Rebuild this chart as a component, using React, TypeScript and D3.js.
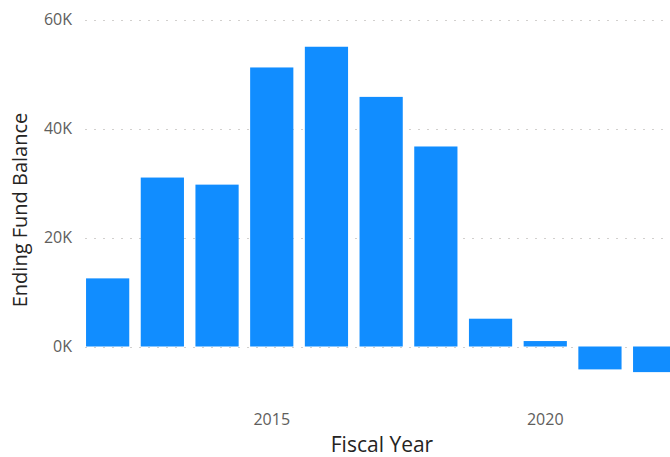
import { useEffect, useRef } from "react";
import * as d3 from "d3";

const years = [2012, 2013, 2014, 2015, 2016, 2017, 2018, 2019, 2020, 2021, 2022];
const balances = [12500, 31000, 29700, 51200, 55000, 45800, 36700, 5100, 1000, -4200, -4700];
const yTicks = [0, 20000, 40000, 60000];
const xTickYears = [2015, 2020];

const FONT = "'Segoe UI', 'Open Sans', 'DejaVu Sans', sans-serif";

const App = () => {
  const ref = useRef<SVGSVGElement>(null);

  useEffect(() => {
    if (!ref.current) return;
    const svg = d3.select(ref.current);
    svg.selectAll("*").remove();

    const width = 670;
    const height = 457;

    const x = d3
      .scaleBand<number>()
      .domain(years)
      .range([80.3, 682])
      .paddingInner(0.21)
      .paddingOuter(0.105);

    const y = d3.scaleLinear().domain([0, 60000]).range([346.5, 19.5]);

    svg.attr("width", width).attr("height", height);

    // gridlines
    svg
      .append("g")
      .selectAll("line")
      .data(yTicks)
      .enter()
      .append("line")
      .attr("x1", 85)
      .attr("x2", width)
      .attr("y1", (d) => Math.round(y(d)) + 0.5)
      .attr("y2", (d) => Math.round(y(d)) + 0.5)
      .attr("stroke", "#d2d0ce")
      .attr("stroke-width", 1)
      .attr("stroke-dasharray", "2 7");

    // y tick labels
    svg
      .append("g")
      .selectAll("text")
      .data(yTicks)
      .enter()
      .append("text")
      .attr("x", 72)
      .attr("y", (d) => y(d))
      .attr("dy", "0.35em")
      .attr("text-anchor", "end")
      .attr("font-family", FONT)
      .attr("font-size", "16px")
      .attr("fill", "#605e5c")
      .text((d) => `${d / 1000}K`);

    // bars
    svg
      .append("g")
      .selectAll("rect")
      .data(years)
      .enter()
      .append("rect")
      .attr("x", (d) => x(d)!)
      .attr("width", x.bandwidth())
      .attr("y", (_d, i) => y(Math.max(0, balances[i])))
      .attr("height", (_d, i) => Math.abs(y(balances[i]) - y(0)))
      .attr("fill", "#118dff");

    // x tick labels
    svg
      .append("g")
      .selectAll("text")
      .data(xTickYears)
      .enter()
      .append("text")
      .attr("x", (d) => x(d)! + x.bandwidth() / 2)
      .attr("y", 425)
      .attr("text-anchor", "middle")
      .attr("font-family", FONT)
      .attr("font-size", "16px")
      .attr("fill", "#605e5c")
      .text((d) => d);

    // axis titles
    svg
      .append("text")
      .attr("x", 382)
      .attr("y", 452)
      .attr("text-anchor", "middle")
      .attr("font-family", FONT)
      .attr("font-size", "21px")
      .attr("fill", "#252423")
      .text("Fiscal Year");

    svg
      .append("text")
      .attr("transform", "translate(27, 210) rotate(-90)")
      .attr("text-anchor", "middle")
      .attr("font-family", FONT)
      .attr("font-size", "20px")
      .attr("fill", "#252423")
      .text("Ending Fund Balance");
  }, []);

  return (
    <svg
      ref={ref}
      style={{ position: "absolute", left: 0, top: 0, display: "block" }}
    ></svg>
  );
};

export default App;
